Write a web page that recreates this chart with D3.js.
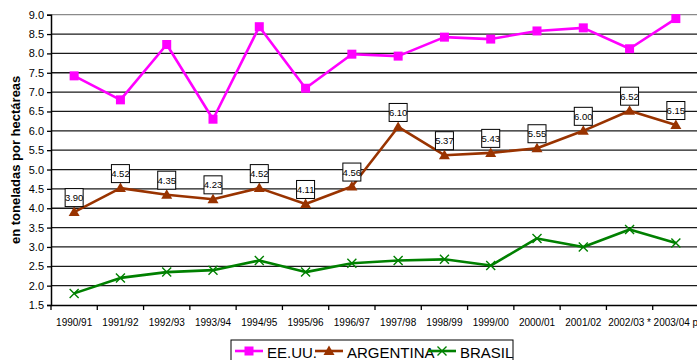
<!DOCTYPE html>
<html>
<head>
<meta charset="utf-8">
<script src="https://cdn.jsdelivr.net/npm/d3@7"></script>
<style>
  html, body { margin: 0; padding: 0; background: #fff; }
  svg { display: block; }
  .narrow { font-family: "Liberation Sans Narrow", "Arial Narrow", "Liberation Sans", Arial, sans-serif; }
</style>
</head>
<body>
<svg id="chart" width="697" height="360"></svg>
<script>
const campaigns = ["1990/91","1991/92","1992/93","1993/94","1994/95","1995/96","1996/97",
                   "1997/98","1998/99","1999/00","2000/01","2001/02","2002/03 *","2003/04 p"];
const eeuu      = [7.42, 6.80, 8.23, 6.30, 8.69, 7.10, 7.98, 7.93, 8.42, 8.37, 8.58, 8.66, 8.12, 8.90];
const argentina = [3.90, 4.52, 4.35, 4.23, 4.52, 4.11, 4.56, 6.10, 5.37, 5.43, 5.55, 6.00, 6.52, 6.15];
const brasil    = [1.80, 2.20, 2.35, 2.40, 2.65, 2.35, 2.58, 2.65, 2.68, 2.52, 3.22, 3.00, 3.45, 3.10];
const yTicks    = [1.5, 2.0, 2.5, 3.0, 3.5, 4.0, 4.5, 5.0, 5.5, 6.0, 6.5, 7.0, 7.5, 8.0, 8.5, 9.0];

const series = [
  { name: "EE.UU.",    values: eeuu,      color: "#ff00ff", marker: "square" },
  { name: "ARGENTINA", values: argentina, color: "#993300", marker: "triangle" },
  { name: "BRASIL",    values: brasil,    color: "#008000", marker: "cross" }
];

const svg = d3.select("#chart");
const plotL = 51, plotT = 14.7, plotR = 699, plotB = 305;

const x = d3.scaleBand().domain(campaigns).range([plotL, plotR]).padding(0);
const y = d3.scaleLinear().domain([1.5, 9.0]).range([plotB, plotT]);
const cx = c => x(c) + x.bandwidth() / 2;

// horizontal gridlines
svg.append("g").selectAll("line").data(yTicks.filter(v => v > 1.5)).join("line")
  .attr("x1", plotL).attr("x2", plotR)
  .attr("y1", d => y(d)).attr("y2", d => y(d))
  .attr("stroke", d => d === 9.0 ? "#8a8a8a" : "#1a1a1a")
  .attr("stroke-width", 1.3);

// y axis
const yAxis = svg.append("g").attr("transform", `translate(${plotL},0)`)
  .call(d3.axisLeft(y).tickValues(yTicks).tickFormat(d3.format(".1f")).tickSize(4).tickPadding(3));
yAxis.select(".domain").attr("stroke", "#000").attr("stroke-width", 1.5);
yAxis.selectAll(".tick line").attr("stroke", "#000").attr("stroke-width", 1.3);
yAxis.selectAll("text").attr("class", "narrow").attr("font-size", 11).attr("fill", "#000");

// x axis
const xAxis = svg.append("g").attr("transform", `translate(0,${plotB})`)
  .call(d3.axisBottom(x).tickSize(0).tickPadding(14));
xAxis.select(".domain").attr("stroke", "#000").attr("stroke-width", 1.5);
xAxis.selectAll("text").attr("class", "narrow").attr("font-size", 10).attr("fill", "#000");
// tick marks at category boundaries
svg.append("g").selectAll("line").data(campaigns).join("line")
  .attr("x1", d => x(d)).attr("x2", d => x(d))
  .attr("y1", plotB).attr("y2", plotB + 5)
  .attr("stroke", "#000").attr("stroke-width", 1.3);

// y axis title
svg.append("text")
  .attr("transform", `translate(20,${(plotT + plotB) / 2}) rotate(-90)`)
  .attr("text-anchor", "middle")
  .attr("font-family", "Liberation Sans, Arial, sans-serif")
  .attr("font-weight", "bold").attr("font-size", 13)
  .text("en toneladas por hectáreas");

function drawMarker(g, type, color, px, py) {
  if (type === "square") {
    g.append("rect").attr("x", px - 4.5).attr("y", py - 4.5).attr("width", 9).attr("height", 9)
      .attr("fill", color);
  } else if (type === "triangle") {
    g.append("path").attr("d", `M${px},${py - 5.5}L${px + 5.5},${py + 4}L${px - 5.5},${py + 4}Z`)
      .attr("fill", color);
  } else {
    g.append("path").attr("d", `M${px - 4.5},${py - 4.5}L${px + 4.5},${py + 4.5}M${px - 4.5},${py + 4.5}L${px + 4.5},${py - 4.5}`)
      .attr("stroke", color).attr("stroke-width", 1.4).attr("fill", "none");
  }
}

const line = d3.line().x((d, i) => cx(campaigns[i])).y(d => y(d));

series.forEach(s => {
  const g = svg.append("g");
  g.append("path").datum(s.values).attr("d", line)
    .attr("fill", "none").attr("stroke", s.color).attr("stroke-width", 2.6)
    .attr("stroke-linejoin", "round");
  s.values.forEach((v, i) => drawMarker(g, s.marker, s.color, cx(campaigns[i]), y(v)));
});

// value labels for Argentina
const lab = svg.append("g");
argentina.forEach((v, i) => {
  const px = cx(campaigns[i]), py = y(v) - 14.5;
  lab.append("rect").attr("x", px - 9).attr("y", py - 9).attr("width", 18).attr("height", 18)
    .attr("fill", "#fff").attr("stroke", "#000").attr("stroke-width", 1);
  lab.append("text").attr("class", "narrow").attr("x", px).attr("y", py + 3.5)
    .attr("text-anchor", "middle").attr("font-size", 9.5).text(v.toFixed(2));
});

// legend
const leg = svg.append("g");
leg.append("rect").attr("x", 231).attr("y", 340).attr("width", 282).attr("height", 30)
  .attr("fill", "#fff").attr("stroke", "#000").attr("stroke-width", 1);
const legX = [235, 315, 428];
series.forEach((s, i) => {
  const lx = legX[i], ly = 351;
  leg.append("line").attr("x1", lx).attr("x2", lx + 28).attr("y1", ly).attr("y2", ly)
    .attr("stroke", s.color).attr("stroke-width", 2.6);
  drawMarker(leg, s.marker, s.color, lx + 14, ly);
  leg.append("text").attr("x", lx + 32).attr("y", ly + 7)
    .attr("font-family", "Liberation Sans, Arial, sans-serif").attr("font-size", 15)
    .text(s.name);
});
</script>
</body>
</html>
